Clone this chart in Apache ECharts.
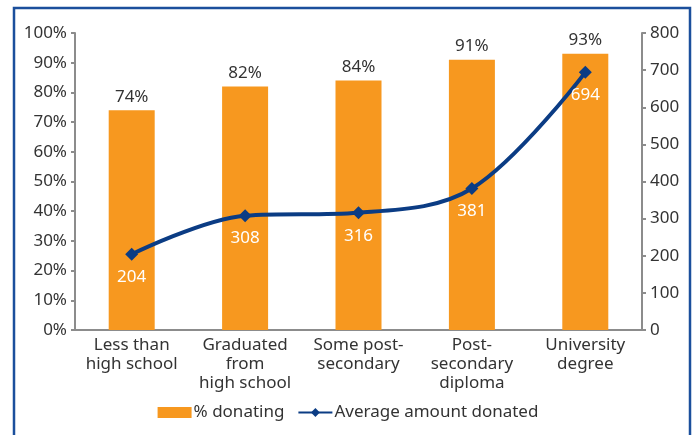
<!DOCTYPE html>
<html>
<head>
<meta charset="utf-8">
<script src="https://cdn.jsdelivr.net/npm/echarts@6/dist/echarts.min.js"></script>
<style>
  html, body { margin: 0; padding: 0; background: #ffffff; }
  #chart { width: 696px; height: 435px; }
</style>
</head>
<body>
<div id="chart"></div>
<script>
// 教育程度分类
const categories = ['Less than\nhigh school', 'Graduated\nfrom\nhigh school', 'Some post-\nsecondary', 'Post-\nsecondary\ndiploma', 'University\ndegree'];
// 捐赠比例 (%)
const pctDonating = [74, 82, 84, 91, 93];
// 平均捐赠金额
const avgDonated = [204, 308, 316, 381, 694];

const textColor = '#333333';
const axisColor = '#8c8c8c';
const font = '"Noto Sans", Lato, sans-serif';

const chart = echarts.init(document.getElementById('chart'));

const option = {
  animation: false,
  textStyle: { fontFamily: font },
  graphic: [
    {
      type: 'rect',
      shape: { x: 14, y: 8, width: 676, height: 440 },
      style: { fill: 'none', stroke: '#1b4f9c', lineWidth: 2.5 }
    }
  ],
  grid: { left: 75, right: 54, top: 33, bottom: 105 },
  legend: {
    bottom: 9,
    left: 'center',
    itemGap: 13,
    itemWidth: 34,
    itemHeight: 11,
    textStyle: { fontSize: 17, color: textColor, fontFamily: font, padding: [0, 0, 0, -3] },
    data: [
      { name: '% donating', icon: 'rect' },
      { name: 'Average amount donated' }
    ]
  },
  xAxis: {
    type: 'category',
    data: categories,
    axisLine: { lineStyle: { color: axisColor, width: 2 } },
    axisTick: { lineStyle: { color: axisColor, width: 2 }, length: 5 },
    axisLabel: { color: textColor, fontSize: 17, lineHeight: 19, margin: 6, interval: 0, fontFamily: font }
  },
  yAxis: [
    {
      type: 'value',
      min: 0, max: 100, interval: 10,
      axisLine: { show: true, lineStyle: { color: axisColor, width: 2 } },
      axisTick: { show: true, length: 4, lineStyle: { color: axisColor, width: 2 } },
      splitLine: { show: false },
      axisLabel: { formatter: '{value}%', color: textColor, fontSize: 17, margin: 8, fontFamily: font }
    },
    {
      type: 'value',
      min: 0, max: 800, interval: 100,
      axisLine: { show: true, lineStyle: { color: axisColor, width: 2 } },
      axisTick: { show: true, length: 4, lineStyle: { color: axisColor, width: 2 } },
      splitLine: { show: false },
      axisLabel: { color: textColor, fontSize: 17, margin: 8, fontFamily: font }
    }
  ],
  series: [
    {
      name: '% donating',
      type: 'bar',
      data: pctDonating,
      barWidth: 46,
      itemStyle: { color: '#f7981f' },
      label: {
        show: true, position: 'top', distance: 5,
        formatter: '{c}%', color: textColor, fontSize: 17, fontFamily: font
      }
    },
    {
      name: 'Average amount donated',
      type: 'line',
      yAxisIndex: 1,
      data: avgDonated,
      smooth: 0.35,
      symbol: 'diamond',
      symbolSize: 13,
      lineStyle: { color: '#0b3c84', width: 4 },
      itemStyle: { color: '#0b3c84' },
      label: {
        show: true, position: 'bottom', distance: 8,
        color: '#ffffff', fontSize: 17, fontFamily: font
      }
    }
  ]
};

chart.setOption(option);
</script>
</body>
</html>
